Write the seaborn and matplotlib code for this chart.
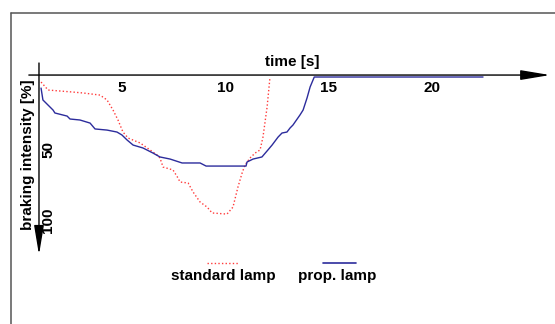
import numpy as np
import pandas as pd
import seaborn as sns
import matplotlib.pyplot as plt
from matplotlib.lines import Line2D

# prop. lamp (solid blue), time [s] vs braking intensity [%]
blue_t = [1.09, 1.18, 1.67, 1.76, 2.35, 2.49, 2.97, 3.46, 3.70, 4.28, 4.76, 5.00,
          5.25, 5.54, 6.02, 6.50, 6.84, 7.33, 7.91, 8.78, 9.07, 11.00, 11.05, 11.34,
          11.77, 12.06, 12.26, 12.55, 12.74, 12.98, 13.13, 13.27, 13.61, 13.76, 13.95,
          14.10, 14.30, 22.46]
blue_v = [7.9, 16.4, 23.6, 25.7, 27.9, 30.0, 30.7, 32.9, 37.1, 37.9, 39.3, 41.4,
          45.0, 48.6, 50.7, 54.3, 57.1, 58.6, 61.4, 61.4, 63.6, 63.6, 60.7, 58.6,
          57.1, 52.1, 48.6, 42.9, 40.0, 39.3, 36.4, 34.3, 27.1, 23.6, 15.0,
          7.1, 0.0, 0.0]

# standard lamp (dotted red)
red_t = [1.09, 1.43, 2.59, 3.12, 3.94, 4.28, 4.57, 4.81, 5.05, 5.30, 5.88, 6.36,
         6.70, 6.84, 6.99, 7.47, 7.71, 7.81, 8.20, 8.44, 8.78, 9.12, 9.36, 10.08,
         10.37, 10.61, 10.81, 10.95, 11.19, 11.44, 11.68, 11.82, 12.02, 12.16]
red_v = [3.6, 9.3, 10.7, 11.4, 12.9, 16.4, 23.6, 30.7, 39.3, 43.6, 47.1, 52.1,
         55.7, 57.9, 64.3, 66.4, 72.1, 75.0, 75.7, 82.1, 89.3, 92.9, 97.1, 97.9,
         92.9, 78.6, 68.6, 62.9, 57.9, 54.3, 52.1, 42.9, 21.4, 0.0]

xticks = [5, 10, 15, 20]
yticks = [50, 100]
labels = ['standard lamp', 'prop. lamp']
colors = {'standard lamp': '#ff3b3b', 'prop. lamp': '#2c2c9c'}

df = pd.concat([
    pd.DataFrame({'time': red_t, 'intensity': red_v, 'lamp': labels[0]}),
    pd.DataFrame({'time': blue_t, 'intensity': blue_v, 'lamp': labels[1]}),
])

sns.set_style('white')
plt.rcParams['font.family'] = ['Liberation Sans', 'DejaVu Sans']
plt.rcParams['font.weight'] = 'bold'
plt.rcParams['text.color'] = 'black'

fig = plt.figure(figsize=(5.55, 3.24), dpi=100)
ax = fig.add_axes([0, 0, 1, 1])
ax.set_xlim(-0.895, 25.94)
ax.set_ylim(176.4, -55)
ax.axis('off')

sns.lineplot(data=df, x='time', y='intensity', hue='lamp', style='lamp',
             palette=colors, dashes={labels[0]: (1, 1.6), labels[1]: ''},
             estimator=None, sort=False, legend=False, lw=1, ax=ax)

# outer frame (left and top only)
fig.add_artist(Line2D([0.0198, 0.0198], [0, 0.96], color='#555555', lw=1.1))
fig.add_artist(Line2D([0.0198, 1], [0.96, 0.96], color='#555555', lw=1.1))

# axes with arrows
arrow = dict(arrowstyle='-|>,head_length=1.8,head_width=0.3', color='black',
             lw=1, shrinkA=0, shrinkB=0, mutation_scale=10)
ax.annotate('', xy=(25.7, -1.4), xytext=(0.5, -1.4), arrowprops=arrow)
ax.annotate('', xy=(0.99, 127), xytext=(0.99, -10), arrowprops=arrow)

for t in xticks:
    ax.text(t, 8, str(t), ha='center', va='center', fontsize=11, fontweight='bold')
for v in yticks:
    ax.text(1.43, v + 2, str(v), ha='center', va='center', rotation=90,
            fontsize=11, fontweight='bold')

ax.text(0.526, 0.809, 'time [s]', transform=ax.transAxes, ha='center', va='center',
        fontsize=11, fontweight='bold')
ax.text(0.0505, 0.522, 'braking intensity [%]', transform=ax.transAxes, rotation=90,
        ha='center', va='center', fontsize=11, fontweight='bold')

# legend below the plot
ax.plot([0.373, 0.429], [0.188, 0.188], transform=ax.transAxes, color=colors[labels[0]],
        lw=1, dashes=(1, 1.6))
ax.plot([0.582, 0.641], [0.188, 0.188], transform=ax.transAxes, color=colors[labels[1]],
        lw=1.2)
ax.text(0.402, 0.148, labels[0], transform=ax.transAxes, ha='center', va='center',
        fontsize=11, fontweight='bold')
ax.text(0.608, 0.148, labels[1], transform=ax.transAxes, ha='center', va='center',
        fontsize=11, fontweight='bold')

fig.savefig('out.png', dpi=100)
